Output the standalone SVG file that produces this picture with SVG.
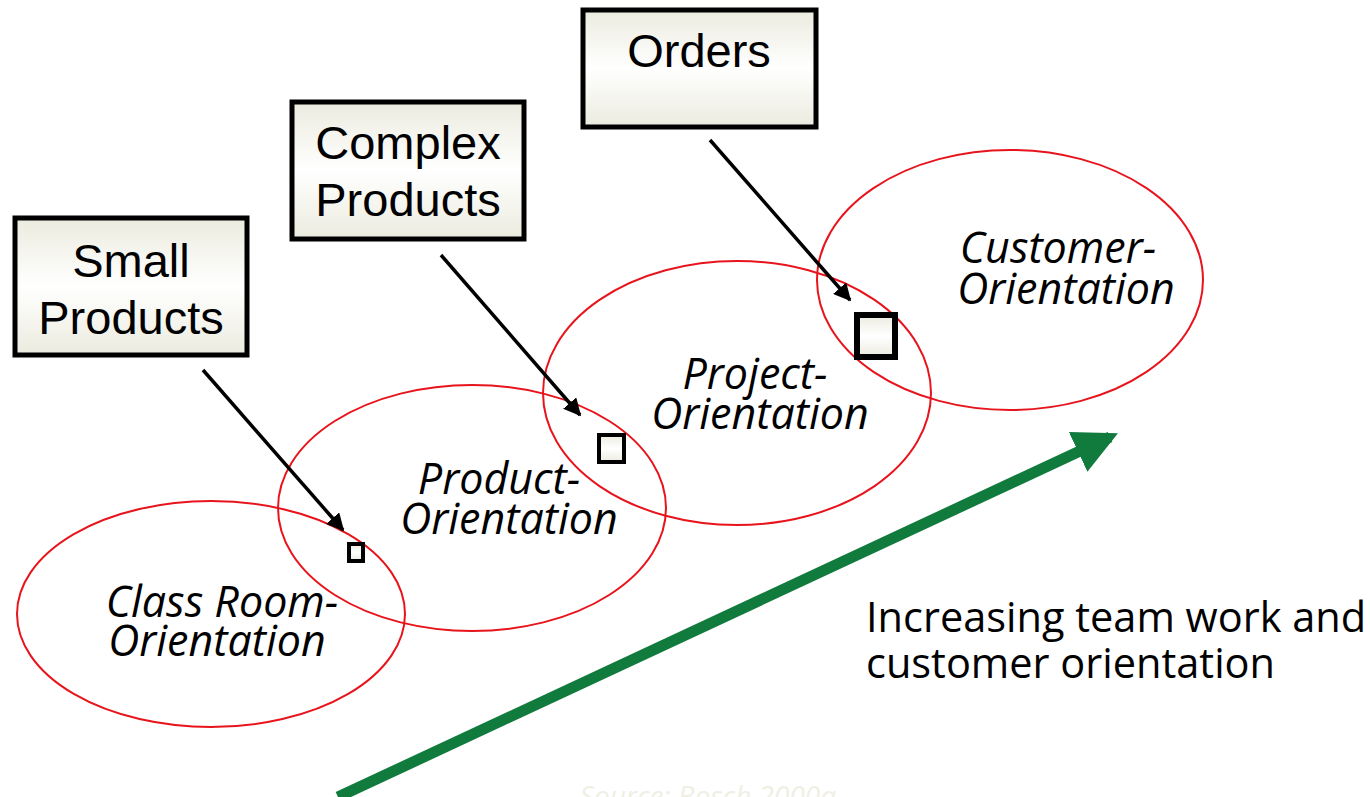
<svg xmlns="http://www.w3.org/2000/svg" width="1370" height="797" viewBox="0 0 1370 797">
<defs>
<linearGradient id="boxfill" x1="0" y1="0" x2="0" y2="1">
<stop offset="0" stop-color="#ecebdf"/>
<stop offset="0.5" stop-color="#ffffff"/>
<stop offset="1" stop-color="#ecebdf"/>
</linearGradient>
<marker id="ah" viewBox="0 0 10 10" refX="9" refY="5" markerWidth="5" markerHeight="5" orient="auto" markerUnits="strokeWidth">
<path d="M0,0 L10,5 L0,10 z" fill="#000"/>
</marker>
<marker id="gh" viewBox="0 0 10 10" refX="8" refY="5" markerWidth="4" markerHeight="4" orient="auto" markerUnits="strokeWidth">
<path d="M0,0 L10,5 L0,10 z" fill="#117a3d"/>
</marker>
<style>
.box{fill:url(#boxfill);stroke:#000;stroke-width:5}
.sq{fill:url(#boxfill);stroke:#000}
.boxt{font-family:"Liberation Sans",Arial,sans-serif;font-size:47px;fill:#000;text-anchor:middle}
.ell{fill:none;stroke:#e8141c;stroke-width:2}
.lab{font-family:"Open Sans","Noto Sans",sans-serif;font-style:italic;font-size:43px;fill:#000;text-anchor:middle}
.note{font-family:"Open Sans","Noto Sans",sans-serif;font-size:41.5px;fill:#000}
.conn{stroke:#000;stroke-width:3.5;fill:none;marker-end:url(#ah)}
</style>
</defs>
<rect width="1370" height="797" fill="#fff"/>
<g id="ellipses">
<g id="classroom"><ellipse class="ell" cx="211" cy="614" rx="194" ry="113"/><text class="lab" x="222" y="617">Class Room-</text><text class="lab" x="217" y="656">Orientation</text></g>
<g id="product"><ellipse class="ell" cx="472" cy="508" rx="194" ry="123"/><text class="lab" x="499" y="494">Product-</text><text class="lab" x="509" y="534">Orientation</text></g>
<g id="project"><ellipse class="ell" cx="737" cy="393" rx="194" ry="132"/><text class="lab" x="755" y="389">Project-</text><text class="lab" x="760" y="429">Orientation</text></g>
<g id="customer"><ellipse class="ell" cx="1010" cy="280" rx="193" ry="130"/><text class="lab" x="1058" y="263">Customer-</text><text class="lab" x="1066" y="304">Orientation</text></g>
</g>
<g id="squares">
<rect class="sq" x="349" y="544" width="14" height="17" stroke-width="4"/>
<rect class="sq" x="599" y="435" width="25" height="27" stroke-width="4"/>
<rect class="sq" x="857" y="315" width="38" height="42" stroke-width="6"/>
</g>
<g id="connectors">
<line class="conn" x1="203" y1="370" x2="343" y2="530"/>
<line class="conn" x1="441" y1="255" x2="580" y2="415"/>
<line class="conn" x1="710" y1="140" x2="850" y2="300"/>
<line x1="338" y1="797" x2="1110" y2="437" stroke="#117a3d" stroke-width="11" marker-end="url(#gh)"/>
</g>
<g id="orders"><rect class="box" x="583" y="10" width="233" height="117"/><text class="boxt" x="699" y="67">Orders</text></g>
<g id="complex"><rect class="box" x="292" y="102" width="232" height="137"/><text class="boxt" x="408" y="159">Complex</text><text class="boxt" x="408" y="216">Products</text></g>
<g id="small"><rect class="box" x="15" y="218" width="232" height="137"/><text class="boxt" x="131" y="277">Small</text><text class="boxt" x="131" y="334">Products</text></g>
<g id="note"><text class="note" x="866" y="632">Increasing team work and</text><text class="note" x="866" y="678">customer orientation</text></g>
<text x="708" y="806" text-anchor="middle" font-family="'Open Sans',sans-serif" font-style="italic" font-size="28" fill="#efefe4">Source: Bosch 2000a</text>
</svg>
